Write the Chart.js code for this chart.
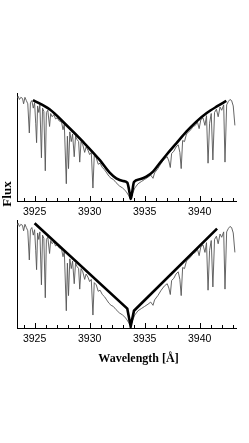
<!DOCTYPE html>
<html>
<head>
<meta charset="utf-8">
<script src="https://cdn.jsdelivr.net/npm/chart.js@4.4.1/dist/chart.umd.min.js"></script>
<style>
  body { margin: 0; background: #fff; width: 249px; height: 443px; position: relative; overflow: hidden; }
  canvas { position: absolute; left: 0; }
  #top-panel { top: 0; }
  #bottom-panel { top: 215px; }
  .axis-label { position: absolute; font-family: "Liberation Serif", "DejaVu Serif", serif; font-weight: bold; color: #000; white-space: nowrap; line-height: 1; }
  #flux-label { left: 5.5px; top: 194px; font-size: 13px; transform: translate(-50%, -50%) rotate(-90deg); }
  #wave-label { left: 138.5px; top: 357.5px; font-size: 12px; transform: translate(-50%, -50%); }
</style>
</head>
<body>
<canvas id="top-panel" width="249" height="230" style="width:249px;height:230px"></canvas>
<canvas id="bottom-panel" width="249" height="228" style="width:249px;height:228px"></canvas>
<div class="axis-label" id="flux-label">Flux</div>
<div class="axis-label" id="wave-label">Wavelength [Å]</div>
<script>
// observed spectrum (wavelength in Å, normalised flux)
const specWave = [
  3923.40, 3923.50, 3923.62, 3923.75, 3923.90, 3924.00, 3924.12, 3924.25, 3924.38, 3924.52,
  3924.62, 3924.75, 3924.88, 3925.00, 3925.10, 3925.18, 3925.27, 3925.38, 3925.48, 3925.62,
  3925.72, 3925.84, 3925.97, 3926.07, 3926.20, 3926.36, 3926.46, 3926.60, 3926.75, 3926.90,
  3927.05, 3927.25, 3927.45, 3927.58, 3927.70, 3927.88, 3927.98, 3928.08, 3928.20, 3928.33,
  3928.45, 3928.60, 3928.72, 3928.85, 3929.00, 3929.10, 3929.22, 3929.38, 3929.55, 3929.68,
  3929.85, 3930.00, 3930.15, 3930.30, 3930.42, 3930.60, 3930.78, 3930.95, 3931.15, 3931.35,
  3931.55, 3931.75, 3931.95, 3932.15, 3932.40, 3932.70, 3933.00, 3933.30, 3933.55, 3933.73,
  3933.90, 3934.10, 3934.40, 3934.70, 3935.00, 3935.30, 3935.55, 3935.76, 3935.90, 3936.20,
  3936.50, 3936.80, 3937.05, 3937.20, 3937.33, 3937.45, 3937.65, 3937.85, 3938.05, 3938.20,
  3938.32, 3938.45, 3938.62, 3938.80, 3939.00, 3939.20, 3939.40, 3939.60, 3939.80, 3939.95,
  3940.10, 3940.30, 3940.48, 3940.62, 3940.76, 3940.90, 3941.05, 3941.20, 3941.35, 3941.52,
  3941.68, 3941.85, 3942.00, 3942.18, 3942.30, 3942.45, 3942.60, 3942.75, 3942.90, 3943.05,
  3943.20
];
const specFlux = [
  0.95, 0.97, 0.94, 0.96, 0.95, 0.90, 0.96, 0.93, 0.90, 0.63,
  0.91, 0.93, 0.86, 0.91, 0.72, 0.54, 0.88, 0.82, 0.89, 0.40,
  0.86, 0.83, 0.28, 0.82, 0.84, 0.69, 0.81, 0.78, 0.80, 0.76,
  0.77, 0.74, 0.73, 0.66, 0.71, 0.16, 0.60, 0.30, 0.64, 0.55,
  0.62, 0.41, 0.60, 0.57, 0.55, 0.36, 0.55, 0.52, 0.45, 0.50,
  0.47, 0.43, 0.45, 0.12, 0.42, 0.40, 0.34, 0.35, 0.31, 0.29,
  0.26, 0.23, 0.21, 0.20, 0.17, 0.14, 0.12, 0.09, 0.05, 0.02,
  0.07, 0.12, 0.16, 0.18, 0.20, 0.22, 0.24, 0.21, 0.26, 0.30,
  0.35, 0.39, 0.41, 0.37, 0.31, 0.44, 0.46, 0.50, 0.52, 0.45,
  0.30, 0.56, 0.55, 0.62, 0.64, 0.66, 0.69, 0.70, 0.73, 0.67,
  0.75, 0.77, 0.70, 0.79, 0.35, 0.72, 0.81, 0.38, 0.82, 0.85,
  0.78, 0.87, 0.84, 0.89, 0.36, 0.89, 0.92, 0.94, 0.93, 0.88,
  0.70
];

// top panel: smooth wing profile
const fitWave = [
  3924.85, 3926.36, 3927.88, 3929.39, 3930.91, 3931.82, 3932.42, 3933.03, 3933.42, 3933.64,
  3933.73, 3933.85, 3934.03, 3934.55, 3935.15, 3935.76, 3936.36, 3936.97, 3937.88, 3938.79,
  3939.70, 3940.61, 3941.52, 3942.42
];
const fitFlux = [
  0.935, 0.849, 0.704, 0.549, 0.380, 0.262, 0.210, 0.185, 0.170, 0.071,
  0.019, 0.071, 0.176, 0.201, 0.225, 0.272, 0.349, 0.426, 0.534, 0.642,
  0.735, 0.812, 0.873, 0.926
];

// bottom panel: linear wing profile
const linWave = [3925.00, 3933.42, 3933.73, 3934.03, 3941.58];
const linFlux = [0.97, 0.18, 0.015, 0.16, 0.92];

const xTicks = [3925, 3930, 3935, 3940];

function pairs(xs, ys) {
  return xs.map((x, i) => ({ x: x, y: ys[i] }));
}

// small inward tick marks every 1 Å, longer ones at the labelled values
const innerTicks = {
  id: 'innerTicks',
  afterDraw(chart) {
    const ctx = chart.ctx;
    const x = chart.scales.x;
    const bottom = chart.chartArea.bottom;
    ctx.save();
    ctx.strokeStyle = '#000';
    ctx.lineWidth = 1;
    for (let v = Math.ceil(x.min); v <= x.max; v++) {
      const px = Math.round(x.getPixelForValue(v)) + 0.5;
      const len = v % 5 === 0 ? 5 : 3;
      ctx.beginPath();
      ctx.moveTo(px, bottom);
      ctx.lineTo(px, bottom - len);
      ctx.stroke();
    }
    ctx.restore();
  }
};

function makePanel(id, profileWave, profileFlux, padding, smooth) {
  return new Chart(document.getElementById(id), {
    type: 'line',
    data: {
      datasets: [
        {
          data: pairs(profileWave, profileFlux),
          borderColor: '#000',
          borderWidth: 2.6,
          pointRadius: 0,
          cubicInterpolationMode: smooth ? 'monotone' : 'default',
          tension: 0
        },
        {
          data: pairs(specWave, specFlux),
          borderColor: '#555',
          borderWidth: 0.9,
          pointRadius: 0,
          tension: 0
        }
      ]
    },
    options: {
      responsive: false,
      animation: false,
      layout: { padding: padding },
      plugins: { legend: { display: false }, tooltip: { enabled: false } },
      scales: {
        x: {
          type: 'linear',
          min: 3923.4,
          max: 3943.3,
          afterFit: (s) => { s.height = 20; },
          afterBuildTicks: (s) => { s.ticks = xTicks.map(v => ({ value: v })); },
          grid: { display: false, drawTicks: false, tickLength: 0 },
          border: { display: true, color: '#000', width: 1 },
          ticks: {
            padding: 5,
            color: '#000',
            maxRotation: 0,
            autoSkip: false,
            font: { family: '"Liberation Sans", Arial, sans-serif', size: 10.5 },
            callback: (v) => String(v)
          }
        },
        y: {
          min: 0,
          max: 1,
          afterFit: (s) => { s.width = 0; },
          grid: { display: false, drawTicks: false },
          border: { display: true, color: '#000', width: 1 },
          ticks: { display: false }
        }
      }
    },
    plugins: [innerTicks]
  });
}

makePanel('top-panel', fitWave, fitFlux, { top: 93, left: 17, right: 13, bottom: 9 }, true);
makePanel('bottom-panel', linWave, linFlux, { top: 5, left: 17, right: 13, bottom: 95 }, false);
</script>
</body>
</html>
